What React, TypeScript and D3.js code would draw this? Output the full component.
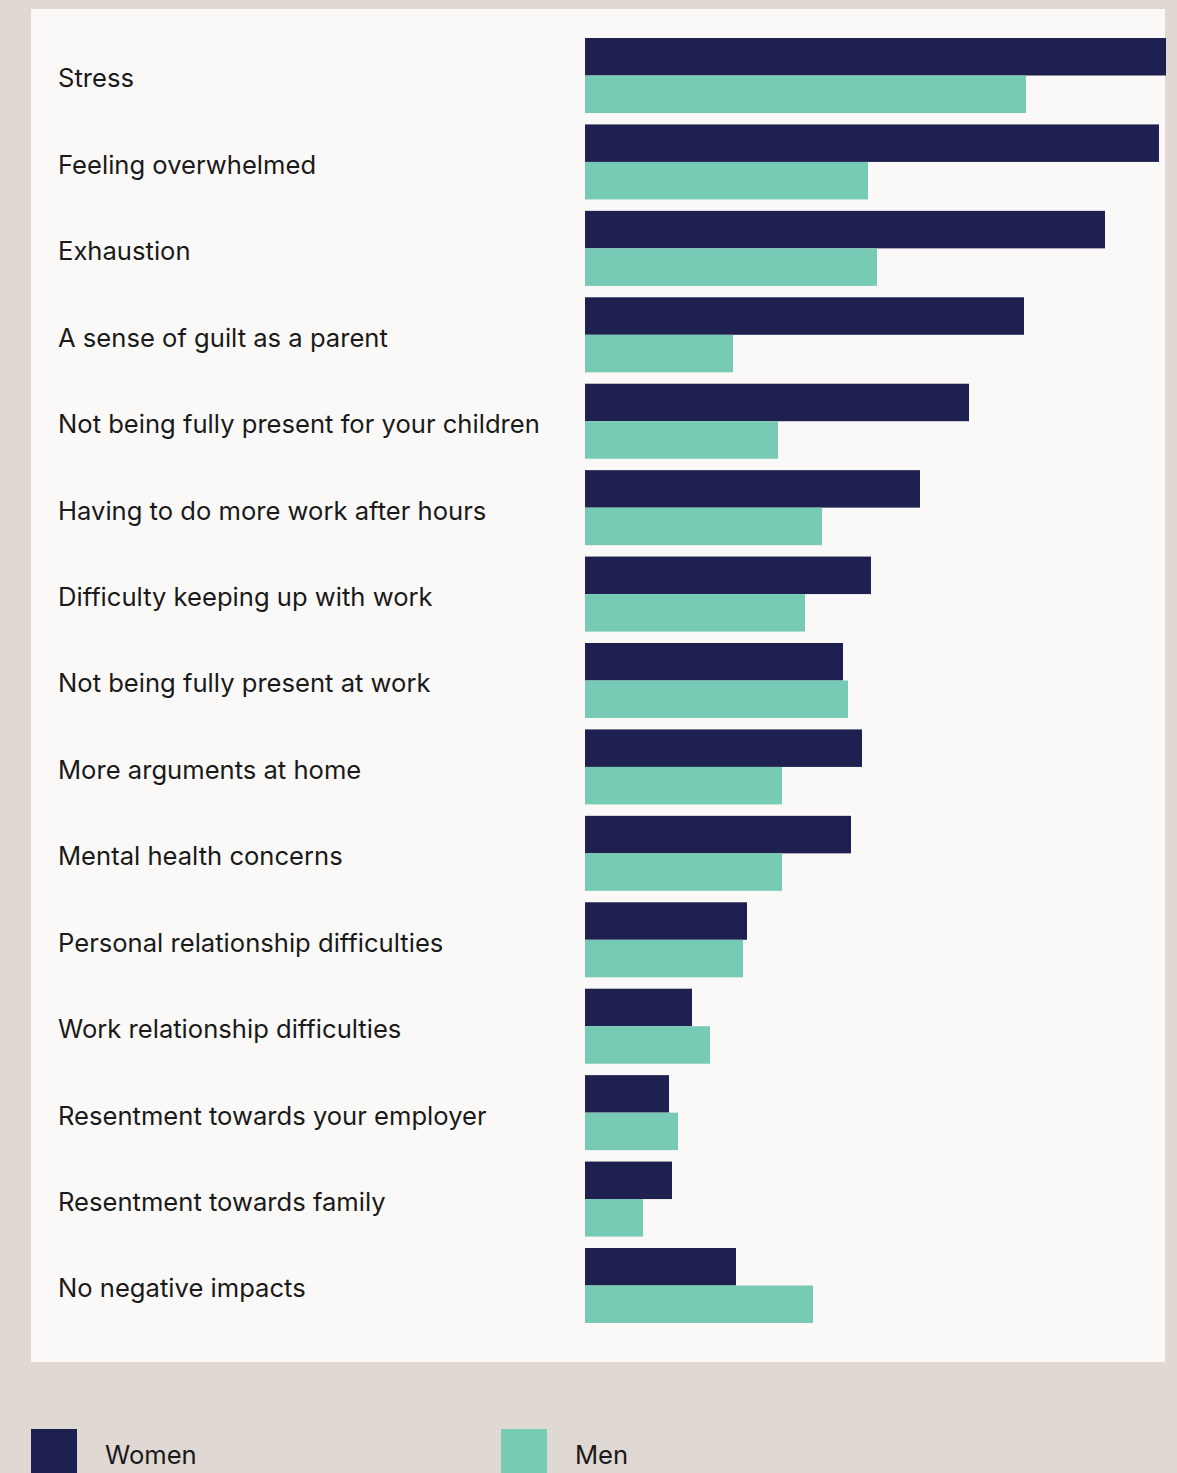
import React from "react";
import * as d3 from "d3";

const categories = [
  "Stress",
  "Feeling overwhelmed",
  "Exhaustion",
  "A sense of guilt as a parent",
  "Not being fully present for your children",
  "Having to do more work after hours",
  "Difficulty keeping up with work",
  "Not being fully present at work",
  "More arguments at home",
  "Mental health concerns",
  "Personal relationship difficulties",
  "Work relationship difficulties",
  "Resentment towards your employer",
  "Resentment towards family",
  "No negative impacts",
];

const women = [58.1, 57.4, 52.0, 43.9, 38.4, 33.5, 28.6, 25.8, 27.7, 26.6, 16.2, 10.7, 8.4, 8.7, 15.1];
const men = [44.1, 28.3, 29.2, 14.8, 19.3, 23.7, 22.0, 26.3, 19.7, 19.7, 15.8, 12.5, 9.3, 5.8, 22.8];

const seriesNames = ["Women", "Men"];
const colors = ["#1e2150", "#77cab4"];

export default function App() {
  const W = 1177;
  const H = 1473;
  const x = d3.scaleLinear().domain([0, 58.1]).range([585, 1166]);
  const y = d3
    .scaleBand<string>()
    .domain(categories)
    .range([38, 1323])
    .paddingInner(0.132)
    .paddingOuter(0);
  const sub = d3.scaleBand<string>().domain(seriesNames).range([0, y.bandwidth()]);
  const font = "Inter, 'Noto Sans', sans-serif";
  const fs = 25.6;

  return (
    <div style={{ position: "absolute", left: 0, top: 0 }}>
      <svg width={W} height={H} style={{ display: "block" }}>
        <rect x={0} y={0} width={W} height={H} fill="#e0d8d3" />
        <rect x={31} y={9} width={1134} height={1353} fill="#faf9f7" />
        {categories.map((c, i) => {
          const y0 = y(c)!;
          return (
            <g key={c}>
              <rect
                x={x(0)}
                y={y0 + sub("Women")!}
                width={x(women[i]) - x(0)}
                height={sub.bandwidth()}
                fill={colors[0]}
              />
              <rect
                x={x(0)}
                y={y0 + sub("Men")!}
                width={x(men[i]) - x(0)}
                height={sub.bandwidth()}
                fill={colors[1]}
              />
              <text
                x={58}
                y={y0 + y.bandwidth() / 2 + 5}
                dominantBaseline="middle"
                fontFamily={font}
                fontSize={fs}
                fill="#1a1a1a"
              >
                {c}
              </text>
            </g>
          );
        })}
        {seriesNames.map((s, i) => {
          const lx = i === 0 ? 31 : 501;
          return (
            <g key={s}>
              <rect x={lx} y={1429} width={46} height={50} fill={colors[i]} />
              <text
                x={lx + 74}
                y={1457}
                dominantBaseline="middle"
                fontFamily={font}
                fontSize={fs}
                fill="#1a1a1a"
              >
                {s}
              </text>
            </g>
          );
        })}
      </svg>
    </div>
  );
}
